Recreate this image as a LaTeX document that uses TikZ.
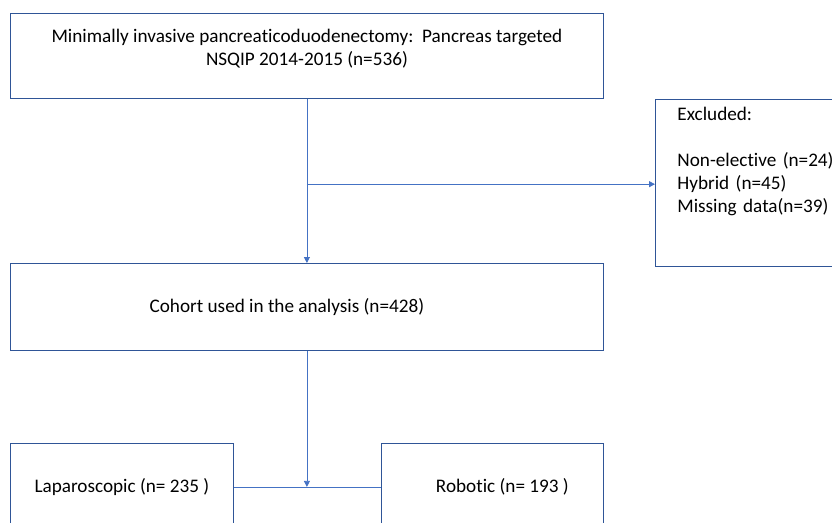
\documentclass[tikz,border=0pt]{standalone}
\usepackage{fontspec}
\setmainfont{Carlito}[Ligatures=NoCommon]
\usetikzlibrary{positioning,arrows.meta,calc}
\definecolor{boxblue}{HTML}{2F5597}
\definecolor{linkblue}{HTML}{4472C4}

\begin{document}
\begin{tikzpicture}[x=1pt,y=-1pt,
  box/.style={draw=boxblue,line width=0.8pt,inner xsep=0pt,inner ysep=0pt,font=\fontsize{19.2}{23}\selectfont},
  link/.style={draw=linkblue,line width=0.8pt,-{Triangle[length=6pt,width=6pt]}}]
\clip (0,0) rectangle (832,522);
% boxes
\node[box,anchor=north west,minimum width=593,minimum height=85,align=center] (source) at (10,13)
  {Minimally invasive pancreaticoduodenectomy:\ \ Pancreas targeted\\NSQIP 2014-2015 (n=536)\\[-5pt]\mbox{}};
\node[box,anchor=north west,minimum width=593,minimum height=87] (cohort) at (10,263)
  {Cohort used in the analysis (n=428)\hspace*{40pt}};
\node[box,anchor=north west,align=left,text width=180,inner xsep=22pt,minimum height=167] (excl) at (655,99)
  {Excluded:\\\mbox{}\\Non-elective (n=24)\\Hybrid (n=45)\\Missing data(n=39)\\[24pt]\mbox{}};
\node[box,anchor=north west,minimum width=223,minimum height=87] (lap) at (10,443) {Laparoscopic (n= 235 )};
\node[box,anchor=north west,minimum width=222,minimum height=87] (rob) at (381,443) {\hspace*{20pt}Robotic (n= 193 )};
% connectors
\coordinate (branch) at ($(source.south)!0.52!(cohort.north)$);
\coordinate (split) at ($(lap.east)!0.5!(rob.west)$);
\draw[link] (source) -- (cohort);
\draw[link] (branch) -- (branch -| excl.west);
\draw[draw=linkblue,line width=0.8pt] (lap.east) -- (rob.west);
\draw[link] (cohort.south) -- (cohort.south |- split);
\end{tikzpicture}
\end{document}
